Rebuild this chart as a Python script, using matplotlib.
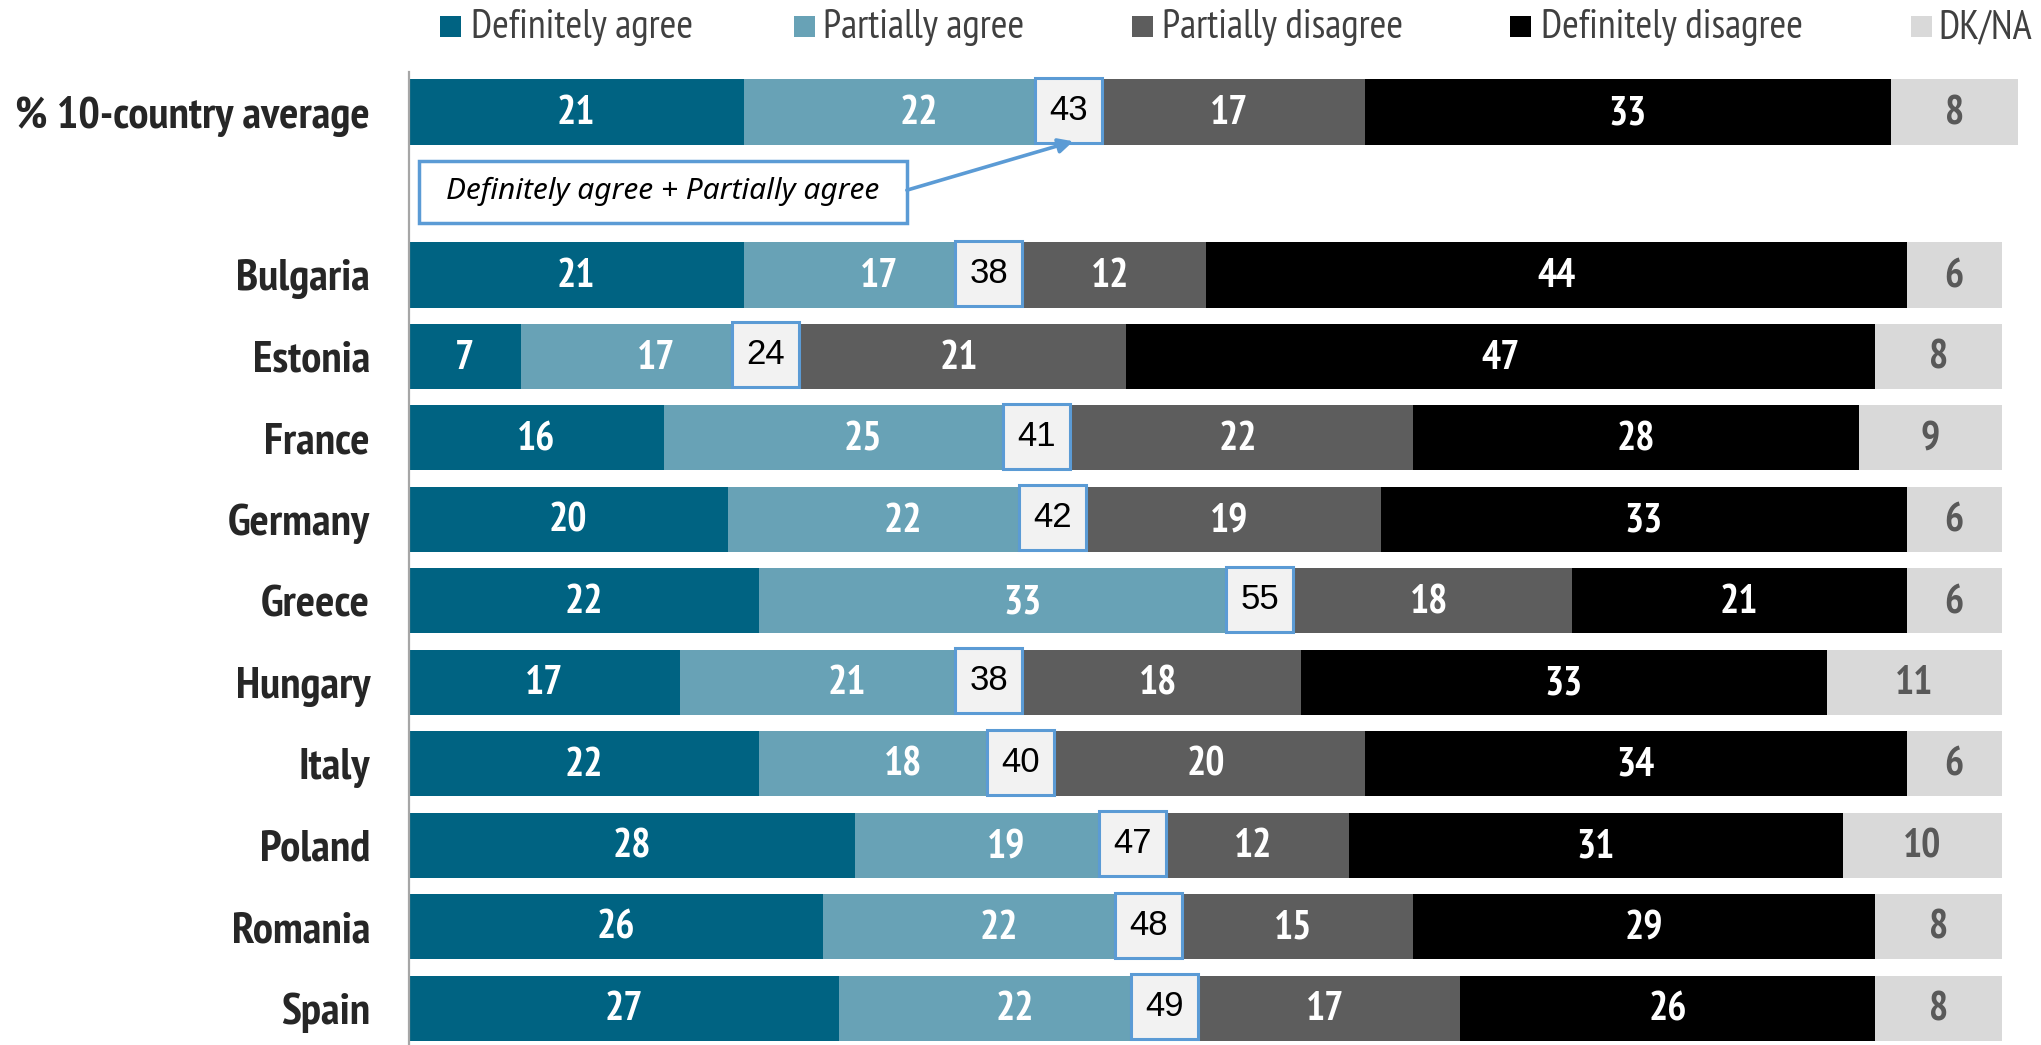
import matplotlib
matplotlib.use('Agg')
import matplotlib.pyplot as plt
from matplotlib import font_manager
from matplotlib.patches import Rectangle
import numpy as np

# Data
rows = ['% 10-country average', 'Bulgaria', 'Estonia', 'France', 'Germany', 'Greece',
        'Hungary', 'Italy', 'Poland', 'Romania', 'Spain']
definitely_agree = [21, 21, 7, 16, 20, 22, 17, 22, 28, 26, 27]
partially_agree = [22, 17, 17, 25, 22, 33, 21, 18, 19, 22, 22]
partially_disagree = [17, 12, 21, 22, 19, 18, 18, 20, 12, 15, 17]
definitely_disagree = [33, 44, 47, 28, 33, 21, 33, 34, 31, 29, 26]
dk_na = [8, 6, 8, 9, 6, 6, 11, 6, 10, 8, 8]
agree_total = [43, 38, 24, 41, 42, 55, 38, 40, 47, 48, 49]

series_names = ['Definitely agree', 'Partially agree', 'Partially disagree',
                'Definitely disagree', 'DK/NA']
series_colors = ['#006382', '#68A2B6', '#5D5D5D', '#000000', '#D9D9D9']
label_colors = ['white', 'white', 'white', 'white', '#595959']
annotation_text = 'Definitely agree + Partially agree'


def pick_font(names):
    for n in names:
        try:
            font_manager.findfont(n, fallback_to_default=False)
            return n
        except Exception:
            continue
    return 'DejaVu Sans'


NARROW = pick_font(['Liberation Sans Narrow', 'Arial Narrow', 'PT Sans Narrow', 'Pragati Narrow'])
REGULAR = pick_font(['Liberation Sans', 'Arial'])
ITALIC = pick_font(['Noto Sans', 'Open Sans', 'DejaVu Sans'])

W, H = 2041, 1045
fig = plt.figure(figsize=(W / 100, H / 100), dpi=100)
ax = fig.add_axes([409 / W, 0, 1625 / W, (H - 72) / H])

# row 0 is the average, then one empty row, then the countries
ypos = np.array([0] + list(range(2, 2 + len(rows) - 1)))

series = [definitely_agree, partially_agree, partially_disagree, definitely_disagree, dk_na]
left = np.zeros(len(rows))
for vals, color, lc in zip(series, series_colors, label_colors):
    vals = np.array(vals, dtype=float)
    ax.barh(ypos, vals, left=left, height=0.8, color=color, linewidth=0)
    for y, l, v in zip(ypos, left, vals):
        ax.text(l + v / 2, y + 0.02, f'{int(v)}', ha='center', va='center', color=lc,
                fontsize=29, fontweight='bold', family=NARROW)
    left += vals

# boxed totals at the agree/disagree boundary
for y, da, pa, tot in zip(ypos, definitely_agree, partially_agree, agree_total):
    b = da + pa
    ax.add_patch(Rectangle((b - 3.7, y - 0.42), 4.2, 0.8, facecolor='#F2F2F2',
                           edgecolor='#5B9BD5', linewidth=2.2, zorder=3))
    ax.text(b - 1.6, y - 0.02, f'{tot}', ha='center', va='center', color='black',
            fontsize=25, family=REGULAR, zorder=4)

# annotation box + arrow
ax.add_patch(Rectangle((0.63, 0.6), 30.6, 0.76, facecolor='white',
                       edgecolor='#5B9BD5', linewidth=2.5, zorder=3))
ax.text(15.9, 0.98, annotation_text, ha='center', va='center', fontsize=21.5,
        style='italic', family=ITALIC, color='black', zorder=4)
ax.annotate('', xy=(41.7, 0.36), xytext=(31.25, 0.96),
            arrowprops=dict(arrowstyle='-|>', color='#5B9BD5', lw=2.6,
                            mutation_scale=22, shrinkA=0, shrinkB=0), zorder=4)

ax.set_xlim(0, 102)
ax.set_ylim(11.45, -0.49)
ax.set_yticks(ypos)
ax.set_yticklabels(rows, fontsize=32.5, fontweight='bold', family=NARROW, color='#262626')
ax.tick_params(axis='y', length=0, pad=28)
ax.set_xticks([])
for s in ['top', 'right', 'bottom']:
    ax.spines[s].set_visible(False)
ax.spines['left'].set_color('#A6A6A6')
ax.spines['left'].set_linewidth(1.6)

# legend drawn by hand along the top
sq_x = [440, 794, 1132, 1510, 1911]
txt_x = [471, 823, 1162, 1541, 1938]
for name, color, sx, tx in zip(series_names, series_colors, sq_x, txt_x):
    fig.patches.append(Rectangle((sx / W, (H - 37) / H), 21 / W, 21 / H,
                                 transform=fig.transFigure, facecolor=color, linewidth=0))
    fig.text(tx / W, 1 - 27.5 / H, name, ha='left', va='center', fontsize=29,
             family=NARROW, color='#404040')

fig.savefig('out.png', dpi=100)
